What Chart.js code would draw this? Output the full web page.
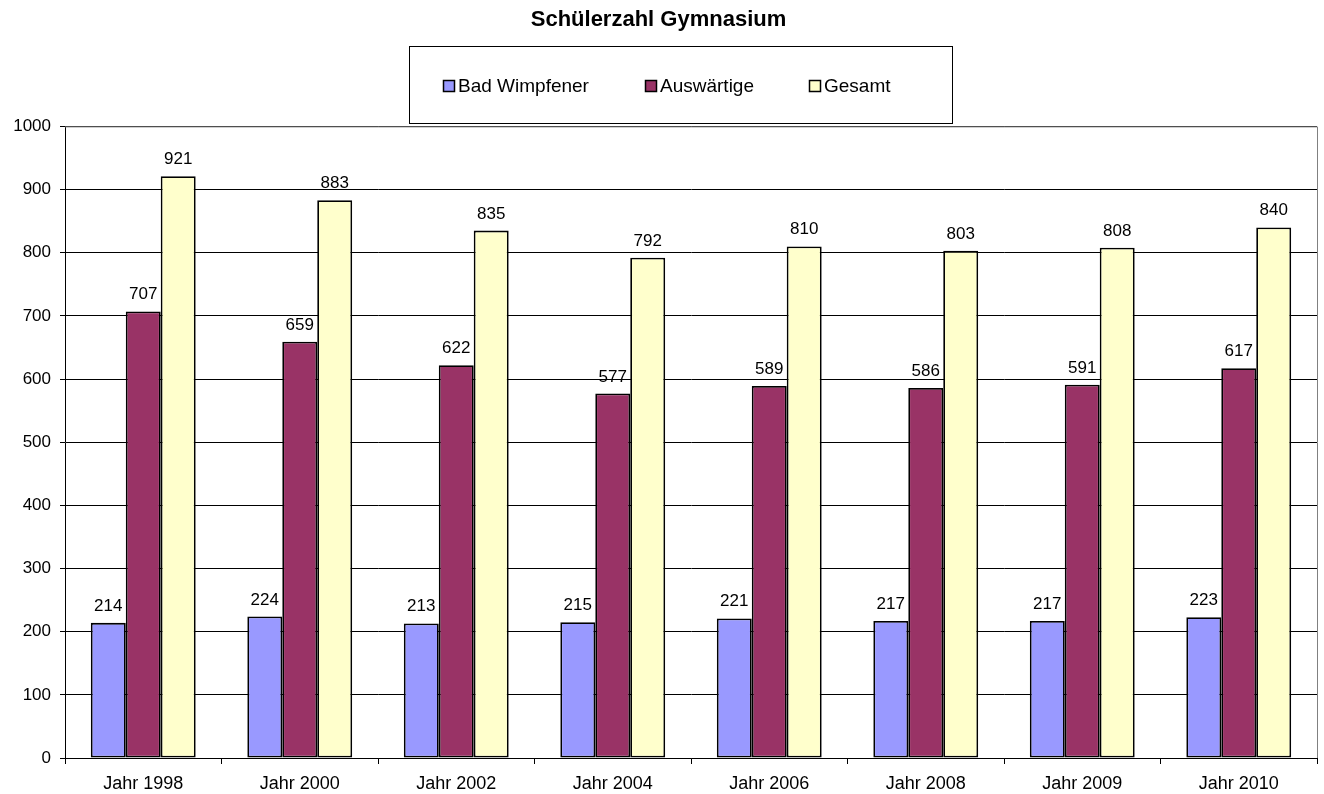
<!DOCTYPE html>
<html>
<head>
<meta charset="utf-8">
<script src="https://cdn.jsdelivr.net/npm/chart.js@4/dist/chart.umd.min.js"></script>
<style>
  html, body { margin: 0; padding: 0; background: #fff; }
  canvas { display: block; }
</style>
</head>
<body>
<canvas id="myChart" width="1324" height="794"></canvas>
<script>
// data
var years = ["Jahr 1998", "Jahr 2000", "Jahr 2002", "Jahr 2004", "Jahr 2006", "Jahr 2008", "Jahr 2009", "Jahr 2010"];
var badWimpfener = [214, 224, 213, 215, 221, 217, 217, 223];
var auswaertige  = [707, 659, 622, 577, 589, 586, 591, 617];
var gesamt       = [921, 883, 835, 792, 810, 803, 808, 840];
var seriesNames  = ["Bad Wimpfener", "Auswärtige", "Gesamt"];
var seriesColors = ["#9999FF", "#993366", "#FFFFCC"];

var FONT = "'Liberation Sans', Arial, sans-serif";

// numbers above each bar
var valueLabels = {
	id: 'valueLabels',
	afterDatasetsDraw: function(chart) {
		var ctx = chart.ctx;
		ctx.save();
		ctx.font = "17px " + FONT;
		ctx.fillStyle = "#000";
		ctx.textAlign = "center";
		ctx.textBaseline = "alphabetic";
		chart.data.datasets.forEach(function(ds, i) {
			chart.getDatasetMeta(i).data.forEach(function(bar, j) {
				ctx.fillText(ds.data[j], bar.x, bar.y - 12);
			});
		});
		ctx.restore();
	}
};

// boxed legend + plot frame like the excel original
var boxLegend = {
	id: 'boxLegend',
	afterDraw: function(chart) {
		var ctx = chart.ctx;
		var area = chart.chartArea;
		ctx.save();
		// grey frame top/right
		ctx.strokeStyle = "#808080";
		ctx.lineWidth = 1;
		ctx.beginPath();
		ctx.moveTo(area.left, area.top + 0.5);
		ctx.lineTo(area.right + 0.5, area.top + 0.5);
		ctx.lineTo(area.right + 0.5, area.bottom);
		ctx.stroke();

		// legend box
		ctx.fillStyle = "#fff";
		ctx.strokeStyle = "#000";
		ctx.fillRect(409.5, 46.5, 543, 77);
		ctx.strokeRect(409.5, 46.5, 543, 77);

		var xs = [443, 645, 809];
		ctx.font = "19px " + FONT;
		ctx.textBaseline = "middle";
		ctx.textAlign = "left";
		chart.data.datasets.forEach(function(ds, i) {
			ctx.fillStyle = ds.backgroundColor;
			ctx.fillRect(xs[i] + 0.5, 80.5, 11, 11);
			ctx.strokeStyle = "#000";
			ctx.lineWidth = 1.5;
			ctx.strokeRect(xs[i] + 0.5, 80.5, 11, 11);
			ctx.fillStyle = "#000";
			ctx.fillText(ds.label, xs[i] + 15, 87);
		});
		ctx.restore();
	}
};

var ctx = document.getElementById('myChart').getContext('2d');

new Chart(ctx, {
	type: 'bar',
	data: {
		labels: years,
		datasets: [badWimpfener, auswaertige, gesamt].map(function(values, i) {
			return {
				label: seriesNames[i],
				data: values,
				backgroundColor: seriesColors[i],
				borderColor: "#000",
				borderWidth: 1.8,
				borderSkipped: false,
				categoryPercentage: 0.67,
				barPercentage: 1.0
			};
		})
	},
	options: {
		responsive: false,
		animation: false,
		layout: { padding: { left: 0, right: 7, top: 0, bottom: 0 } },
		plugins: {
			legend: { display: false },
			tooltip: { enabled: false },
			title: {
				display: true,
				text: "Schülerzahl Gymnasium",
				color: "#000",
				font: { family: FONT, size: 22, weight: 'bold' },
				padding: { top: 7, bottom: 93 }
			}
		},
		scales: {
			x: {
				grid: { display: true, drawOnChartArea: false, offset: true, color: "#000", tickLength: 6 },
				border: { color: "#000", width: 1 },
				ticks: { color: "#000", font: { family: FONT, size: 18 }, padding: 9, maxRotation: 0 },
				afterFit: function(scale) { scale.height = 36; }
			},
			y: {
				min: 0,
				max: 1000,
				ticks: {
					stepSize: 100, color: "#000", font: { family: FONT, size: 17 }, padding: 9,
					callback: function(v) { return String(v); }
				},
				grid: { color: "#000", tickLength: 5 },
				border: { color: "#000", width: 1 },
				afterFit: function(scale) { scale.width = 65; }
			}
		}
	},
	plugins: [valueLabels, boxLegend]
});
</script>
</body>
</html>
